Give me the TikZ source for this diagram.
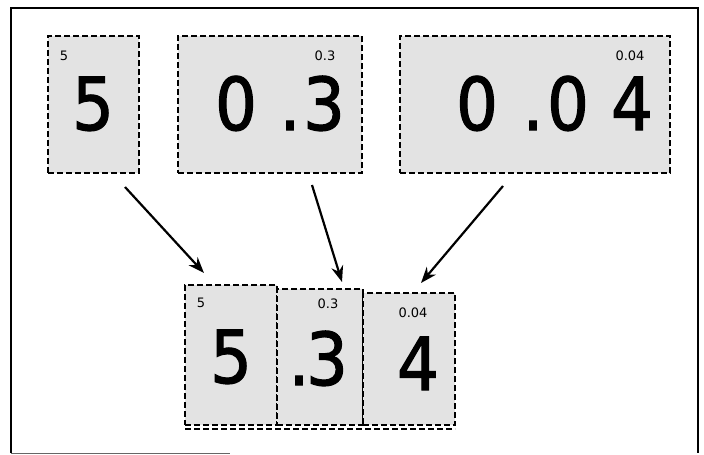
\documentclass[tikz,border=0pt]{standalone}
\usepackage{fontspec}
\setmainfont{DejaVu Sans}
\newfontfamily\digfont{DejaVu Sans Condensed}[FakeBold=1.6]
\usetikzlibrary{arrows.meta}
\tikzset{
  box/.style={draw=black, line width=1.2pt, dash pattern=on 6pt off 3pt, fill=black!11, inner sep=0pt},
  big/.style={font=\digfont\fontsize{73}{73}\selectfont, inner sep=0pt, anchor=base},
  small/.style={font=\fontsize{13}{13}\selectfont, inner sep=0pt, anchor=base},
  arr/.style={line width=2.2pt, -{Stealth[length=16pt,width=12pt]}},
  frame/.style={line width=2pt}
}
\begin{document}
\begin{tikzpicture}[x=1pt,y=-1pt]
\useasboundingbox (0,0) rectangle (704,455);
% frame
\draw[frame] (11,453) -- (11,8) -- (698,8) -- (698,453);
\draw[line width=0.8pt, black!60] (11,453) -- (230,453);
% top boxes
\node[box, minimum width=91pt, minimum height=137pt] (b1) at (93.5,104.5) {};
\node[box, minimum width=184pt, minimum height=137pt] (b2) at (270,104.5) {};
\node[box, minimum width=270pt, minimum height=137pt] (b3) at (535,104.5) {};
% bottom shadow lines
\draw[line width=1.2pt, dash pattern=on 6pt off 3pt] (185,429) -- (455,429);
% bottom boxes
\node[box, minimum width=92pt, minimum height=140pt] (c1) at (231,355) {};
\node[box, minimum width=86pt, minimum height=136pt] (c2) at (320,357) {};
\node[box, minimum width=92pt, minimum height=132pt] (c3) at (409,359) {};
% top texts
\node[big] (t5) at (93,130) {5};
\node[small] (s5) at (64,60) {5};
\node[big] (t0a) at (236,130) {0};
\node[big] (tda) at (290,130) {.};
\node[big] (t3) at (324,130) {3};
\node[small] (s03) at (325,60) {0.3};
\node[big] (t0b) at (477,130) {0};
\node[big] (tdb) at (533,130) {.};
\node[big] (t0c) at (568,130) {0};
\node[big] (t4) at (632,130) {4};
\node[small] (s004) at (630,60) {0.04};
% bottom texts
\node[big] (u5) at (231,383) {5};
\node[small] (v5) at (201,307) {5};
\node[big] (ud) at (299,385) {.};
\node[big] (u3) at (327,385) {3};
\node[small] (v03) at (328,308) {0.3};
\node[big] (u4) at (418,390) {4};
\node[small] (v004) at (413,317) {0.04};
% arrows
\coordinate (a1s) at (125,187);
\coordinate (a1e) at (204,273);
\coordinate (a2s) at (312,185);
\coordinate (a2e) at (342,282);
\coordinate (a3s) at (503,186);
\coordinate (a3e) at (421,283);
\draw[arr] (a1s) -- (a1e);
\draw[arr] (a2s) -- (a2e);
\draw[arr] (a3s) -- (a3e);
\end{tikzpicture}
\end{document}
